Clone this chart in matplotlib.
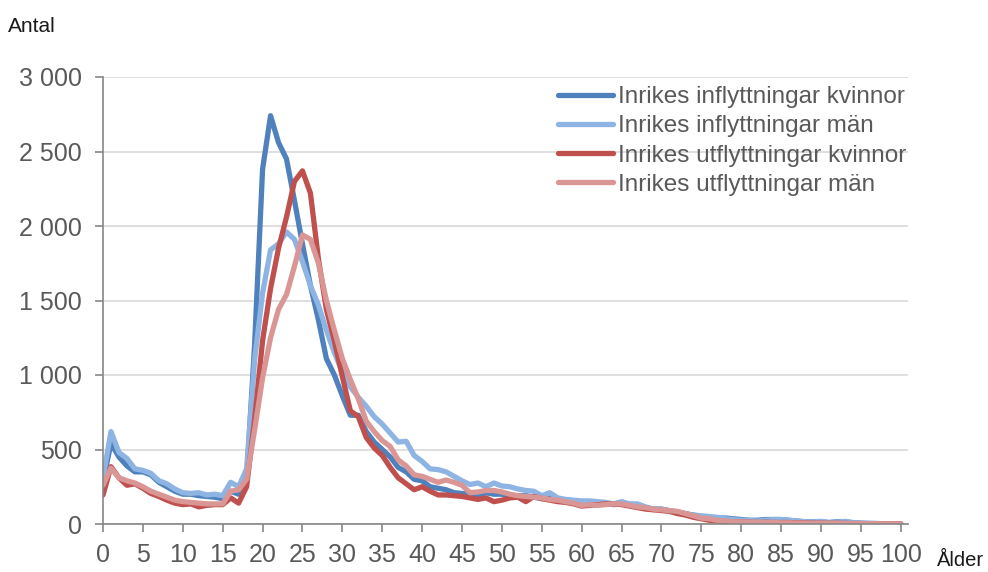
import matplotlib.pyplot as plt
from matplotlib.ticker import FuncFormatter, MultipleLocator

plt.rcParams['font.family'] = ['Liberation Sans', 'DejaVu Sans']

# Age 0..100
ages = list(range(101))

inflytt_kvinnor = [
    290, 540, 450, 390, 350, 350, 330, 280, 250, 220,
    200, 200, 190, 185, 180, 170, 220, 200, 300, 1200,
    2380, 2740, 2560, 2450, 2170, 1880, 1600, 1370, 1110, 1000,
    860, 730, 730, 620, 550, 500, 450, 380, 350, 300,
    290, 250, 240, 230, 210, 205, 200, 190, 210, 200,
    200, 190, 190, 190, 180, 170, 180, 160, 150, 150,
    150, 140, 140, 140, 130, 140, 130, 120, 110, 100,
    100, 90, 80, 70, 60, 50, 45, 40, 40, 35,
    30, 25, 25, 30, 30, 30, 25, 20, 15, 15,
    15, 10, 15, 15, 8, 5, 4, 3, 2, 1, 1,
]

inflytt_man = [
    310, 620, 480, 440, 370, 360, 340, 290, 270, 235,
    210, 205, 210, 195, 200, 190, 280, 250, 370, 1100,
    1550, 1840, 1880, 1960, 1910, 1760, 1600, 1470, 1300, 1150,
    1020, 920, 850, 790, 720, 670, 610, 550, 555, 460,
    420, 370, 365, 350, 320, 290, 265, 275, 250, 275,
    255, 250, 235, 225, 220, 190, 210, 175, 165, 160,
    155, 155, 150, 145, 135, 150, 135, 135, 115, 100,
    100, 85, 75, 65, 60, 55, 50, 45, 35, 30,
    25, 25, 20, 25, 30, 30, 25, 20, 15, 15,
    18, 10, 12, 18, 10, 6, 4, 3, 2, 1, 1,
]

utflytt_kvinnor = [
    195, 385, 310, 260, 270, 240, 205, 185, 160, 140,
    130, 135, 115, 125, 130, 130, 175, 140, 250, 700,
    1230, 1580, 1850, 2060, 2300, 2370, 2220, 1780, 1440, 1230,
    990, 760, 720, 580, 510, 460, 380, 310, 270, 230,
    250, 220, 195, 195, 190, 185, 175, 165, 175, 150,
    160, 175, 180, 150, 185, 170, 160, 150, 145, 135,
    120, 125, 130, 135, 135, 130, 120, 110, 100, 95,
    90, 85, 70, 60, 45, 35, 25, 20, 15, 15,
    15, 12, 10, 12, 10, 10, 10, 8, 8, 6,
    6, 5, 5, 4, 3, 3, 2, 2, 1, 1, 1,
]

utflytt_man = [
    260, 375, 310, 290, 275, 250, 220, 200, 180, 160,
    150, 145, 140, 135, 135, 135, 220, 230, 300, 630,
    980, 1250, 1440, 1540, 1730, 1940, 1910, 1750, 1500, 1300,
    1110, 970, 840, 690, 620, 560, 520, 430, 390, 330,
    320, 300, 280, 295, 280, 260, 210, 215, 225, 225,
    215, 200, 190, 185, 180, 175, 165, 160, 150, 140,
    125, 130, 125, 130, 135, 135, 125, 115, 110, 100,
    95, 90, 85, 70, 55, 40, 35, 25, 20, 15,
    15, 12, 12, 10, 10, 8, 8, 6, 6, 5,
    5, 4, 4, 3, 3, 2, 2, 2, 1, 1, 1,
]

series = [
    ("Inrikes inflyttningar kvinnor", inflytt_kvinnor, "#4F81BD"),
    ("Inrikes inflyttningar män", inflytt_man, "#8DB4E2"),
    ("Inrikes utflyttningar kvinnor", utflytt_kvinnor, "#C0504D"),
    ("Inrikes utflyttningar män", utflytt_man, "#DA9694"),
]

fig = plt.figure(figsize=(9.88, 5.72), dpi=100)
ax = fig.add_axes([103 / 988, 1 - 524 / 572, (908 - 103) / 988, 447 / 572])

for label, vals, col in series:
    ax.plot(ages, vals, color=col, lw=3.8, label=label,
            solid_capstyle="round", solid_joinstyle="round")

ax.set_xlim(0, 100.9)
ax.set_ylim(0, 3000)
ax.xaxis.set_major_locator(MultipleLocator(5))
ax.yaxis.set_major_locator(MultipleLocator(500))
ax.yaxis.set_major_formatter(FuncFormatter(lambda v, p: f"{int(v):,}".replace(",", " ")))

ax.grid(axis="y", color="#D9D9D9", lw=1.2)
ax.set_axisbelow(True)
for s in ("top", "right"):
    ax.spines[s].set_visible(False)
for s in ("left", "bottom"):
    ax.spines[s].set_color("#868686")
    ax.spines[s].set_linewidth(1.2)

ax.tick_params(axis="both", colors="#868686", labelcolor="#595959",
               labelsize=18, length=6, width=1.2)
ax.tick_params(axis="x", pad=8)
ax.tick_params(axis="y", pad=9)

fig.text(8 / 988, 1 - 26 / 572, "Antal", fontsize=15, color="#1a1a1a",
         va="center", ha="left")
fig.text(937 / 988, 1 - 561 / 572, "Ålder", fontsize=14.5, color="#1a1a1a",
         va="center", ha="left")

ax.legend(loc="upper left", bbox_to_anchor=(558 / 988, 1 - 86 / 572),
          bbox_transform=fig.transFigure, frameon=False, fontsize=17.5,
          labelcolor="#595959", handlelength=2.25, handletextpad=0.2,
          labelspacing=0.3, borderaxespad=0, borderpad=0)

fig.savefig("out.png", dpi=100)
